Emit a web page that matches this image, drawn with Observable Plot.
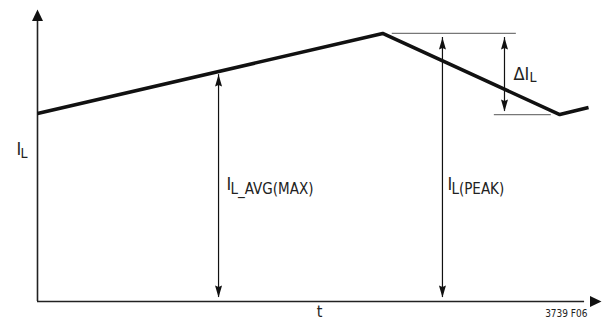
<!DOCTYPE html>
<html>
<head>
<meta charset="utf-8">
<script src="https://cdn.jsdelivr.net/npm/d3@7"></script>
<script src="https://cdn.jsdelivr.net/npm/@observablehq/plot@0.6"></script>
<style>
  html, body { margin: 0; padding: 0; background: #fff; }
  #chart svg { display: block; }
</style>
</head>
<body>
<div id="chart"></div>
<script>
// Inductor current waveform (schematic units, 0..100)
const time    = [0, 61.2, 92.6, 97.7];
const current = [64.4, 91.8, 64.0, 66.4];

// Dimension arrows (double headed)
const arrowNames = ["avg", "peak", "ripple"];
const arrowX     = [32.1, 71.8, 82.8];
const arrowLow   = [1.4, 1.4, 65.1];
const arrowHigh  = [77.7, 90.4, 90.4];

// Extension lines at peak and valley
const refY  = [91.8, 64.0];
const refX1 = [62.9, 81.0];
const refX2 = [84.9, 91.1];

const FONT = '"Liberation Sans Narrow", "Arial Narrow", "DejaVu Sans Condensed", "Liberation Sans", sans-serif';

const wave = time.map((t, i) => ({t, i: current[i]}));
const arrows = arrowNames.map((n, k) => ({name: n, x: arrowX[k], y1: arrowLow[k], y2: arrowHigh[k]}));
const refs = refY.map((y, k) => ({y, x1: refX1[k], x2: refX2[k]}));

// custom filled arrowhead symbols (tip at origin, pointing up)
const smallHead = {draw(c) { c.moveTo(0, 0); c.lineTo(3.5, 12); c.lineTo(0, 10.5); c.lineTo(-3.5, 12); c.closePath(); }};
const bigHead   = {draw(c) { c.moveTo(0, 0); c.lineTo(5.5, 11.5); c.lineTo(-5.5, 11.5); c.closePath(); }};

const chart = Plot.plot({
  width: 603,
  height: 324,
  marginLeft: 37,
  marginRight: 2,
  marginTop: 9,
  marginBottom: 23,
  x: {domain: [0, 100], axis: null},
  y: {domain: [0, 100], axis: null},
  style: {fontFamily: FONT, background: "#fff", overflow: "visible"},
  marks: [
    // axes
    Plot.ruleX([0], {y1: 0, y2: 97, stroke: "#222", strokeWidth: 1.6}),
    Plot.ruleY([0], {x1: 0, x2: 97, stroke: "#222", strokeWidth: 1.6}),
    Plot.dot([{x: 0, y: 100}], {x: "x", y: "y", symbol: bigHead, fill: "#111", stroke: "none", r: 5}),
    Plot.dot([{x: 100, y: 0}], {x: "x", y: "y", symbol: bigHead, rotate: 90, fill: "#111", stroke: "none", r: 5}),

    // extension lines
    Plot.ruleY(refs, {y: "y", x1: "x1", x2: "x2", stroke: "#777", strokeWidth: 1.3}),

    // dimension arrows
    Plot.ruleX(arrows, {x: "x", y1: "y1", y2: "y2", stroke: "#111", strokeWidth: 1.2}),
    Plot.dot(arrows, {x: "x", y: "y2", symbol: smallHead, fill: "#111", stroke: "none", r: 4}),
    Plot.dot(arrows, {x: "x", y: "y1", symbol: smallHead, rotate: 180, fill: "#111", stroke: "none", r: 4}),

    // waveform
    Plot.line(wave, {x: "t", y: "i", stroke: "#111", strokeWidth: 3.6, strokeLinejoin: "miter", strokeLinecap: "butt"}),

    // axis labels
    Plot.text([0], {x: 0, y: 52, text: () => "I", dx: -21, fontSize: 18, textAnchor: "start", fill: "#222"}),
    Plot.text([0], {x: 0, y: 52, text: () => "L", dx: -17, dy: 4, fontSize: 14, textAnchor: "start", fill: "#222"}),
    Plot.text([50], {x: 50, y: 0, text: () => "t", dy: 10, fontSize: 16, textAnchor: "middle", fill: "#222"}),
    Plot.text([100], {x: 100, y: 0, text: () => "3739 F06", dx: -14, dy: 12, fontSize: 10, textAnchor: "end", fill: "#222"}),

    // dimension labels
    Plot.text([arrows[0]], {x: "x", y: 40, text: () => "I", dx: 8, fontSize: 18, textAnchor: "start", fill: "#222"}),
    Plot.text([arrows[0]], {x: "x", y: 40, text: () => "L_AVG(MAX)", dx: 12, dy: 4, fontSize: 15, textAnchor: "start", fill: "#222"}),
    Plot.text([arrows[1]], {x: "x", y: 40, text: () => "I", dx: 5, fontSize: 18, textAnchor: "start", fill: "#222"}),
    Plot.text([arrows[1]], {x: "x", y: 40, text: () => "L(PEAK)", dx: 9, dy: 4, fontSize: 15, textAnchor: "start", fill: "#222"}),
    Plot.text([arrows[2]], {x: "x", y: 78, text: () => "ΔI", dx: 9, fontSize: 18, textAnchor: "start", fill: "#222"}),
    Plot.text([arrows[2]], {x: "x", y: 78, text: () => "L", dx: 25, dy: 4, fontSize: 14, textAnchor: "start", fill: "#222"})
  ]
});

document.getElementById("chart").appendChild(chart);
</script>
</body>
</html>
